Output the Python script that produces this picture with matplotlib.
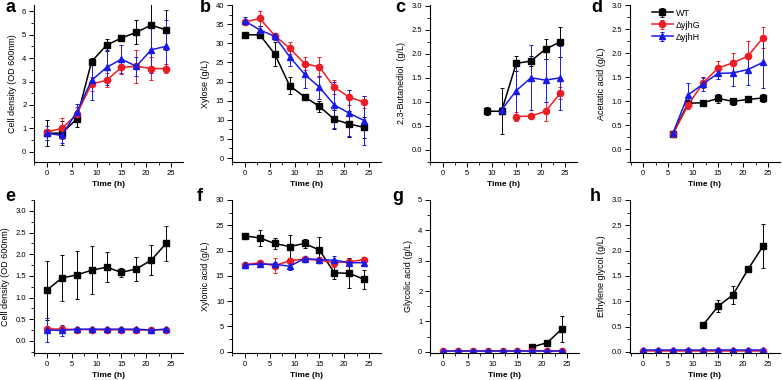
import matplotlib
matplotlib.use('Agg')
import numpy as np
from matplotlib import pyplot as plt
from matplotlib.ticker import AutoMinorLocator, MultipleLocator, FormatStrFormatter

plt.rcParams['font.family'] = ['Liberation Sans', 'DejaVu Sans']

# Tiempos de muestreo
t_all = [0, 3, 6, 9, 12, 15, 18, 21, 24]

# a: densidad celular (OD 600nm)
a_wt = [0.8, 0.8, 1.4, 3.85, 4.55, 4.85, 5.1, 5.4, 5.2]
a_wt_err = [0.55, 0.5, 0.35, 0.15, 0.25, 0.05, 0.5, 1.0, 0.85]
a_g = [0.85, 1.0, 1.6, 2.9, 3.05, 3.6, 3.65, 3.55, 3.55]
a_g_err = [0.1, 0.45, 0.3, 0.3, 0.3, 0.3, 0.7, 0.5, 0.2]
a_h = [0.8, 0.7, 1.7, 3.05, 3.6, 3.95, 3.65, 4.35, 4.5]
a_h_err = [0.3, 0.3, 0.35, 0.85, 0.75, 0.6, 0.4, 1.0, 1.1]

# b: xilosa (g/L)
b_wt = [32.2, 32.2, 27.2, 18.9, 16.0, 13.5, 10.1, 8.9, 8.0]
b_wt_err = [0.2, 0.2, 3.2, 2.2, 0.3, 1.5, 2.5, 3.5, 2.7]
b_g = [35.5, 36.5, 32.0, 28.7, 24.7, 23.8, 18.5, 15.9, 14.6]
b_g_err = [0.5, 2.0, 0.8, 1.5, 1.8, 2.5, 1.8, 2.0, 1.5]
b_h = [35.8, 33.5, 31.8, 26.5, 21.9, 18.5, 13.9, 11.7, 9.8]
b_h_err = [1.0, 1.0, 1.0, 2.5, 3.5, 3.0, 6.0, 6.0, 6.5]

# c: 2,3-butanodiol (g/L)
c_t_wt = [9, 12, 15, 18, 21, 24]
c_wt = [0.8, 0.8, 1.8, 1.85, 2.1, 2.25]
c_wt_err = [0.08, 0.48, 0.15, 0.1, 0.2, 0.32]
c_t_g = [15, 18, 21, 24]
c_g = [0.69, 0.7, 0.8, 1.18]
c_g_err = [0.1, 0.05, 0.2, 0.12]
c_t_h = [12, 15, 18, 21, 24]
c_h = [0.83, 1.23, 1.5, 1.45, 1.5]
c_h_err = [0.05, 0.62, 0.68, 0.45, 0.67]

# d: ácido acético (g/L)
t_d = [6, 9, 12, 15, 18, 21, 24]
d_wt = [0.33, 0.96, 0.97, 1.06, 1.0, 1.04, 1.07]
d_wt_err = [0.03, 0.05, 0.03, 0.1, 0.07, 0.03, 0.08]
d_g = [0.32, 0.92, 1.38, 1.69, 1.8, 1.94, 2.32]
d_g_err = [0.03, 0.07, 0.1, 0.15, 0.2, 0.32, 0.22]
d_h = [0.34, 1.13, 1.36, 1.58, 1.59, 1.66, 1.81]
d_h_err = [0.03, 0.25, 0.15, 0.12, 0.27, 0.32, 0.53]

# e: densidad celular (OD 600nm)
e_wt = [1.17, 1.45, 1.52, 1.63, 1.70, 1.58, 1.66, 1.86, 2.25]
e_wt_err = [0.68, 0.53, 0.56, 0.55, 0.34, 0.1, 0.28, 0.35, 0.4]
e_g = [0.28, 0.27, 0.26, 0.26, 0.25, 0.26, 0.25, 0.25, 0.26]
e_g_err = [0.04, 0.03, 0.03, 0.03, 0.03, 0.03, 0.03, 0.03, 0.03]
e_h = [0.25, 0.24, 0.27, 0.27, 0.27, 0.27, 0.27, 0.25, 0.27]
e_h_err = [0.28, 0.13, 0.04, 0.03, 0.03, 0.03, 0.03, 0.03, 0.03]

# f: ácido xilónico (g/L)
f_wt = [22.9, 22.5, 21.4, 20.8, 21.4, 20.1, 15.6, 15.5, 14.3]
f_wt_err = [0.3, 1.5, 1.0, 2.3, 0.8, 2.5, 1.3, 3.0, 1.9]
f_g = [17.2, 17.6, 17.0, 18.0, 18.3, 18.1, 17.6, 17.8, 18.2]
f_g_err = [0.5, 0.4, 1.5, 0.5, 0.4, 0.4, 0.8, 0.5, 0.5]
f_h = [17.2, 17.3, 17.3, 16.9, 18.4, 18.2, 18.1, 17.6, 17.6]
f_h_err = [0.6, 0.4, 0.5, 0.7, 0.3, 0.5, 0.8, 0.6, 0.6]

# g: ácido glicólico (g/L)
g_t_wt = [18, 21, 24]
g_wt = [0.16, 0.3, 0.76]
g_wt_err = [0.04, 0.05, 0.43]
g_g = [0.03] * 9
g_h = [0.04] * 9

# h: etilenglicol (g/L)
h_t_wt = [12, 15, 18, 21, 24]
h_wt = [0.53, 0.9, 1.13, 1.63, 2.09]
h_wt_err = [0.02, 0.12, 0.18, 0.05, 0.44]
h_g = [0.02] * 9
h_h = [0.03] * 9

C_WT = 'black'
C_G = '#ee1c25'
C_H = '#1a1ae6'

W, H = 782, 380
fig = plt.figure(figsize=(W / 100, H / 100), dpi=100)


def make_ax(left, top, width, height):
    ax = fig.add_axes([left / W, 1 - (top + height) / H, width / W, height / H])
    for s in ['top', 'right']:
        ax.spines[s].set_visible(False)
    for s in ['left', 'bottom']:
        ax.spines[s].set_linewidth(0.8)
    ax.set_xlim(-2.6, 27.4)
    ax.xaxis.set_major_locator(MultipleLocator(5))
    ax.xaxis.set_minor_locator(AutoMinorLocator(2))
    ax.yaxis.set_minor_locator(AutoMinorLocator(2))
    ax.tick_params(which='major', length=3.5, width=0.7, labelsize=5.5, pad=2, direction='out')
    ax.tick_params(which='minor', length=2, width=0.6, direction='out')
    ax.set_xlabel('Time (h)', fontsize=6, fontweight='bold', labelpad=3)
    return ax


def serie(ax, x, y, err, color, marker, label=None):
    ax.errorbar(x, y, yerr=err, color=color, marker=marker, markersize=4.5,
                linewidth=1.1, elinewidth=0.7, capsize=1.5, capthick=0.7, label=label)


def tag(x, y, letter):
    fig.text(x / W, 1 - y / H, letter, fontsize=13, fontweight='bold', ha='center', va='center')


top1, h1 = 5, 157
top2, h2 = 200, 153

# a
ax = make_ax(34, top1, 149, h1)
serie(ax, t_all, a_wt, a_wt_err, C_WT, 's')
serie(ax, t_all, a_g, a_g_err, C_G, 'o')
serie(ax, t_all, a_h, a_h_err, C_H, '^')
ax.set_ylim(-0.43, 6.26)
ax.yaxis.set_major_locator(MultipleLocator(1))
ax.set_ylabel('Cell density (OD 600nm)', fontsize=6.5)
tag(10, 8, 'a')

# b
ax = make_ax(232, top1, 149, h1)
serie(ax, t_all, b_wt, b_wt_err, C_WT, 's')
serie(ax, t_all, b_g, b_g_err, C_G, 'o')
serie(ax, t_all, b_h, b_h_err, C_H, '^')
ax.set_ylim(-1.04, 40)
ax.yaxis.set_major_locator(MultipleLocator(5))
ax.set_ylabel('Xylose (g/L)', fontsize=6.5)
tag(205, 8, 'b')

# c
ax = make_ax(430, top1, 147, h1)
serie(ax, c_t_wt, c_wt, c_wt_err, C_WT, 's')
serie(ax, c_t_g, c_g, c_g_err, C_G, 'o')
serie(ax, c_t_h, c_h, c_h_err, C_H, '^')
ax.set_ylim(-0.26, 3.02)
ax.yaxis.set_major_locator(MultipleLocator(0.5))
ax.yaxis.set_major_formatter(FormatStrFormatter('%.1f'))
ax.set_ylabel('2,3-Butanediol  (g/L)', fontsize=6.5)
tag(400, 8, 'c')

# d
ax = make_ax(630, top1, 150, h1)
serie(ax, t_d, d_wt, d_wt_err, C_WT, 's', 'WT')
serie(ax, t_d, d_g, d_g_err, C_G, 'o', '\u0394yjhG')
serie(ax, t_d, d_h, d_h_err, C_H, '^', '\u0394yjhH')
ax.set_ylim(-0.26, 3.0)
ax.yaxis.set_major_locator(MultipleLocator(0.5))
ax.yaxis.set_major_formatter(FormatStrFormatter('%.1f'))
ax.set_ylabel('Acetatic acid (g/L)', fontsize=6.5)
ax.legend(loc='upper left', bbox_to_anchor=(0.12, 1.0), frameon=False, fontsize=6.5,
          handlelength=2.4, handletextpad=0.3, labelspacing=0.33, borderaxespad=0.0)
tag(597, 8, 'd')

# e
ax = make_ax(34, top2, 149, h2)
serie(ax, t_all, e_wt, e_wt_err, C_WT, 's')
serie(ax, t_all, e_g, e_g_err, C_G, 'o')
serie(ax, t_all, e_h, e_h_err, C_H, '^')
ax.set_ylim(-0.28, 3.25)
ax.yaxis.set_major_locator(MultipleLocator(0.5))
ax.yaxis.set_major_formatter(FormatStrFormatter('%.1f'))
ax.set_ylabel('Cell density (OD 600nm)', fontsize=6.5)
tag(10, 197, 'e')

# f
ax = make_ax(232, top2, 149, h2)
serie(ax, t_all, f_wt, f_wt_err, C_WT, 's')
serie(ax, t_all, f_g, f_g_err, C_G, 'o')
serie(ax, t_all, f_h, f_h_err, C_H, '^')
ax.set_ylim(-0.26, 30)
ax.yaxis.set_major_locator(MultipleLocator(5))
ax.set_ylabel('Xylonic acid (g/L)', fontsize=6.5)
tag(200, 197, 'f')

# g
ax = make_ax(430, top2, 149, h2)
serie(ax, g_t_wt, g_wt, g_wt_err, C_WT, 's')
serie(ax, t_all, g_g, None, C_G, 'o')
serie(ax, t_all, g_h, None, C_H, '^')
ax.set_ylim(-0.04, 5)
ax.yaxis.set_major_locator(MultipleLocator(1))
ax.set_ylabel('Glycolic acid (g/L)', fontsize=6.5)
tag(398, 197, 'g')

# h
ax = make_ax(630, top2, 150, h2)
serie(ax, h_t_wt, h_wt, h_wt_err, C_WT, 's')
serie(ax, t_all, h_g, None, C_G, 'o')
serie(ax, t_all, h_h, None, C_H, '^')
ax.set_ylim(-0.02, 3.0)
ax.yaxis.set_major_locator(MultipleLocator(0.5))
ax.yaxis.set_major_formatter(FormatStrFormatter('%.1f'))
ax.set_ylabel('Ethylene glycol (g/L)', fontsize=6.5)
tag(595, 197, 'h')

fig.savefig('out.png', dpi=100)
plt.close(fig)
